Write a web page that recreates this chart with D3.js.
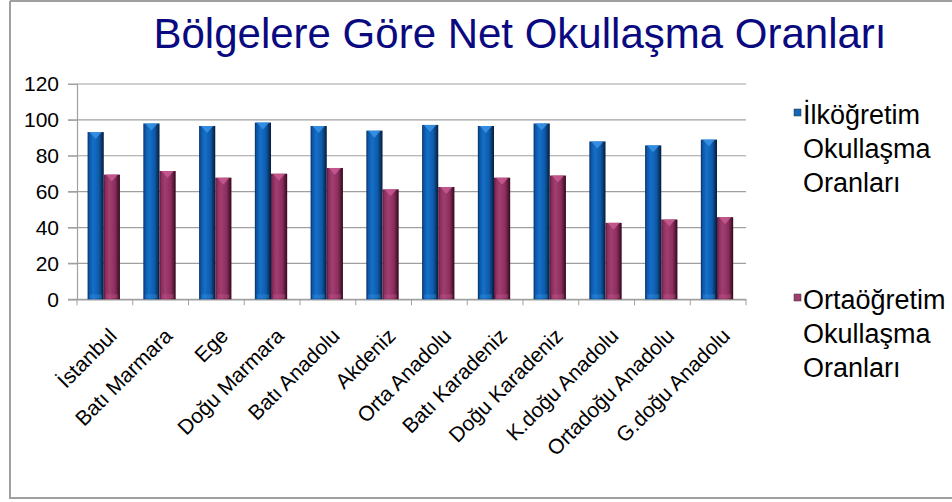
<!DOCTYPE html>
<html><head><meta charset="utf-8">
<script src="https://cdnjs.cloudflare.com/ajax/libs/d3/7.8.5/d3.min.js"></script>
<style>html,body{margin:0;padding:0;background:#fff;}svg{display:block;font-family:"Liberation Sans",Arial,sans-serif;}</style>
</head><body><div id="chart"></div>
<script>
const title = "Bölgelere Göre Net Okullaşma Oranları";
const categories = ["İstanbul","Batı Marmara","Ege","Doğu Marmara","Batı Anadolu","Akdeniz","Orta Anadolu","Batı Karadeniz","Doğu Karadeniz","K.doğu Anadolu","Ortadoğu Anadolu","G.doğu Anadolu"];
const seriesNames = [["İlköğretim","Okullaşma","Oranları"],["Ortaöğretim","Okullaşma","Oranları"]];
const ilkogretim = [93.2, 98.0, 96.6, 98.5, 96.6, 94.0, 97.2, 96.6, 98.0, 88.0, 85.8, 89.0];
const ortaogretim = [69.5, 71.5, 67.8, 70.0, 73.2, 61.3, 62.6, 67.8, 69.0, 42.6, 44.5, 45.8];
const yTicks = [0,20,40,60,80,100,120];

const W=952,H=502;
const svg=d3.select("#chart").append("svg").attr("width",W).attr("height",H);
const defs=svg.append("defs");
function grad(id,stops){const g=defs.append("linearGradient").attr("id",id).attr("x1","0").attr("x2","1").attr("y1","0").attr("y2","0");stops.forEach(s=>g.append("stop").attr("offset",s[0]).attr("stop-color",s[1]));}
grad("gBlue",[[0,"#0a2f62"],[0.12,"#0d56a8"],[0.35,"#1470c8"],[0.7,"#0e5aa8"],[0.9,"#08305e"],[1,"#051c3c"]]);
grad("gRed",[[0,"#5a1838"],[0.12,"#8a2e5e"],[0.35,"#a23e70"],[0.7,"#8a2e5e"],[0.9,"#52152f"],[1,"#300a1c"]]);
const fills=["url(#gBlue)","url(#gRed)"];
const tops=["#3a94e6","#c85a92"];
const legendCol=["#1565b8","#a03d6e"];

svg.append("path").attr("d",`M10,1 H${W} M10,1 V498 H${W}`).attr("fill","none").attr("stroke","#a0a0a0").attr("stroke-width",2);

svg.append("text").attr("x",520).attr("y",48).attr("text-anchor","middle").style("font-size","42px").attr("fill","#0a0a80").text(title);

const x=d3.scaleBand().domain(categories).range([77,746]).padding(0);
const bw=x.bandwidth();
const x1=d3.scaleBand().domain([0,1]).range([bw*0.19,bw*0.77]).padding(0);
const y=d3.scaleLinear().domain([0,120]).range([299.3,84]);

svg.append("g").selectAll("line").data(yTicks).join("line")
 .attr("x1",68).attr("x2",746).attr("y1",d=>y(d)).attr("y2",d=>y(d)).attr("stroke","#a0a0a0").attr("stroke-width",1.2);
const ya=svg.append("g").attr("transform","translate(77,0)").call(d3.axisLeft(y).tickValues(yTicks).tickSize(9).tickPadding(9));
ya.attr("font-size",null).attr("font-family",null);
ya.select(".domain").attr("stroke","#a0a0a0").attr("stroke-width",1.2);
ya.selectAll(".tick line").attr("stroke","#a0a0a0");
ya.selectAll("text").style("font-size","21px").style("font-family","'Liberation Sans', Arial, sans-serif").attr("fill","#000");

const xa=svg.append("g").attr("transform",`translate(0,${y(0)})`).call(d3.axisBottom(x).tickSize(0).tickFormat(""));
xa.select(".domain").attr("stroke","#a0a0a0").attr("stroke-width",1.2);
svg.append("g").selectAll("line").data(d3.range(categories.length+1)).join("line")
 .attr("x1",i=>77+i*bw).attr("x2",i=>77+i*bw).attr("y1",y(0)).attr("y2",y(0)+6).attr("stroke","#a0a0a0");

svg.append("g").selectAll("text").data(categories).join("text")
 .attr("transform",d=>`translate(${x(d)+bw/2+8},332) rotate(-45)`)
 .attr("text-anchor","end").attr("dy","0.35em").style("font-size","21px").attr("fill","#000").text(d=>d);

const series=[ilkogretim,ortaogretim];
series.forEach((vals,si)=>{
  const g=svg.append("g");
  const bwid=x1.bandwidth();
  g.selectAll("rect").data(vals).join("rect")
   .attr("x",(d,i)=>x(categories[i])+x1(si)).attr("width",bwid)
   .attr("y",d=>y(d)).attr("height",d=>y(0)-y(d)).attr("fill",fills[si]);
  g.selectAll("path").data(vals).join("path")
   .attr("d",(d,i)=>{const x0=x(categories[i])+x1(si);const yt=y(d);return `M${x0+2},${yt} L${x0+bwid-2},${yt} L${x0+bwid/2},${yt+7} Z`;})
   .attr("fill",tops[si]).attr("opacity",0.85);
  g.selectAll("rect.bt").data(vals).join("rect").attr("class","bt")
   .attr("x",(d,i)=>x(categories[i])+x1(si)+2).attr("width",bwid-4)
   .attr("y",y(0)-5).attr("height",4).attr("fill",tops[si]).attr("opacity",0.35);
});

const legY=[124,309];
seriesNames.forEach((lines,si)=>{
  const g=svg.append("g");
  g.append("rect").attr("x",794).attr("y",legY[si]-15).attr("width",7).attr("height",7).attr("fill",legendCol[si]).attr("stroke","#333").attr("stroke-width",0.5);
  lines.forEach((t,li)=>{
    g.append("text").attr("x",803).attr("y",legY[si]+li*34).style("font-size","27px").attr("fill","#000").text(t);
  });
});
</script></body></html>
